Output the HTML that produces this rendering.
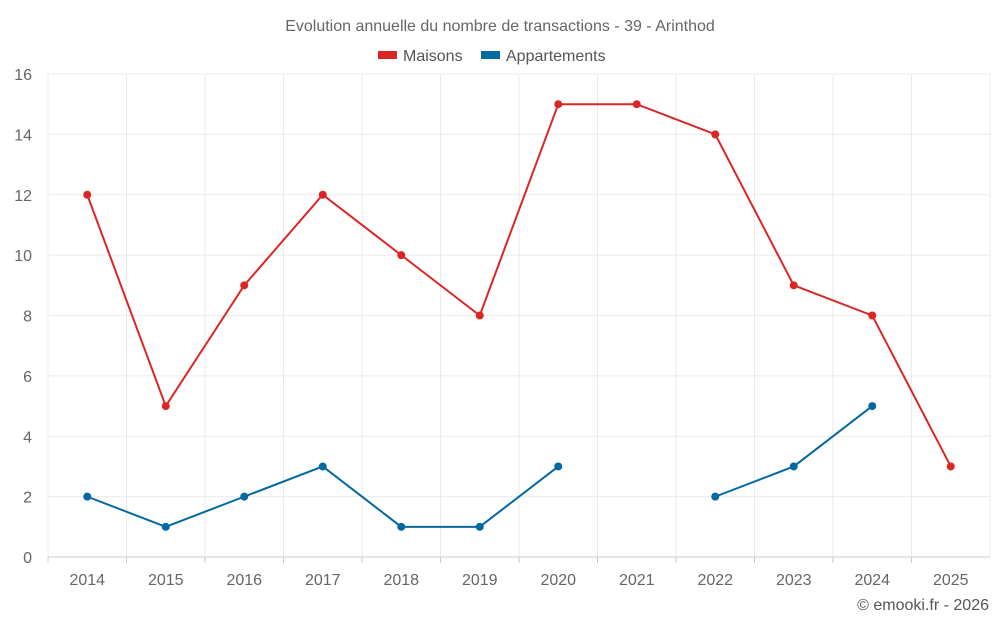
<!DOCTYPE html>
<html><head><meta charset="utf-8"><style>
body{margin:0;background:#fff;font-family:"Liberation Sans",sans-serif;}
svg text{font-family:"Liberation Sans",sans-serif;}
</style></head><body>
<svg id="chart" width="1000" height="625" viewBox="0 0 1000 625">
<text x="500" y="31" text-anchor="middle" font-size="16" fill="#666">Evolution annuelle du nombre de transactions - 39 - Arinthod</text>
<g>
<g><rect x="378" y="51" width="19" height="8" fill="#dc2626"/><text x="403" y="61" font-size="16" fill="#555">Maisons</text></g>
<g><rect x="481" y="51" width="19" height="8" fill="#0369a1"/><text x="506" y="61" font-size="16" fill="#555">Appartements</text></g>
</g>
<g id="grid"></g>
<g id="axes"></g>
<g id="series"></g>
<text x="989" y="610" text-anchor="end" font-size="16" fill="#555">© emooki.fr - 2026</text>
</svg>
<script>
const categories=["2014","2015","2016","2017","2018","2019","2020","2021","2022","2023","2024","2025"];
const maisons=[12,5,9,12,10,8,15,15,14,9,8,3];
const appartements=[2,1,2,3,1,1,3,null,2,3,5,null];
const yTicks=[0,2,4,6,8,10,12,14,16];
const NS="http://www.w3.org/2000/svg";
const L=48,R=990,T=74,B=557,yMax=16;
const band=(R-L)/categories.length;
const xs=i=>L+band*(i+0.5);
const ys=v=>B-(v/yMax)*(B-T);
function mk(tag,attrs,parent){const e=document.createElementNS(NS,tag);for(const k in attrs)e.setAttribute(k,attrs[k]);parent.appendChild(e);return e;}
const grid=document.getElementById('grid'),axes=document.getElementById('axes'),series=document.getElementById('series');
yTicks.forEach(t=>{
  const l=mk('line',{x1:L,x2:R,y1:ys(t),y2:ys(t),stroke:t===0?'#ccc':'#ebebeb','stroke-width':1},grid);
  
  
  const tx=mk('text',{x:32,y:ys(t)+6,'text-anchor':'end','font-size':16,fill:'#666'},axes);
  tx.textContent=t;
  
  
});
for(let i=0;i<=categories.length;i++){
  const x=L+band*i;
  const l=mk('line',{x1:x,x2:x,y1:T,y2:B,stroke:'#ebebeb','stroke-width':1},grid);
  
  
}
categories.forEach((c,i)=>{
  const tk=mk('line',{x1:L+band*i,x2:L+band*i,y1:B,y2:B+6,stroke:'#ccc'},axes);
  
  
  const tx=mk('text',{x:xs(i),y:585,'text-anchor':'middle','font-size':16,fill:'#666'},axes);
  tx.textContent=c;
  
  
});
function draw(data,color,name){
  let segs=[],cur=[];
  data.forEach((v,i)=>{if(v===null){if(cur.length)segs.push(cur);cur=[];}else cur.push([xs(i),ys(v)]);});
  if(cur.length)segs.push(cur);
  segs.forEach(s=>{
    const p=mk('polyline',{points:s.map(q=>q.join(',')).join(' '),fill:'none',stroke:color,'stroke-width':2},series);
    
    
  });
  data.forEach((v,i)=>{if(v===null)return;
    const c=mk('circle',{cx:xs(i),cy:ys(v),r:4,fill:color},series);
    
    
  });
}
draw(maisons,'#dc2626','maisons');
draw(appartements,'#0369a1','appartements');
</script>
</body></html>
